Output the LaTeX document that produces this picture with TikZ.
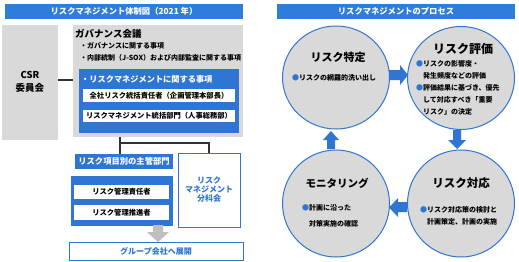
\documentclass[tikz,border=0pt]{standalone}
\usepackage{fontspec}
\setmainfont{Noto Sans CJK JP}
\usetikzlibrary{shapes.geometric}
\definecolor{mblue}{RGB}{46,117,212}
\definecolor{tblue}{RGB}{46,125,218}
\definecolor{mgray}{RGB}{217,217,217}
\definecolor{agray}{RGB}{191,191,191}
\definecolor{lcol}{RGB}{50,50,50}
\newcommand{\fs}[1]{\fontsize{#1}{#1}\selectfont}
\tikzset{
  rbox/.style={rectangle, inner sep=0pt, outer sep=0pt},
  titlebar/.style={rbox, fill=tblue, text=white, font=\fs{8.3}\bfseries, minimum width=238pt, minimum height=15pt},
  graybox/.style={rbox, fill=mgray},
  bluebox/.style={rbox, fill=mblue},
  whitebox/.style={rbox, fill=white, font=\fs{7.3}\bfseries},
  outlinebox/.style={rbox, draw=mblue, line width=0.9pt, fill=white, text=mblue, font=\fs{8}\bfseries},
  conn/.style={draw=lcol, line width=1.3pt},
  proc/.style={ellipse, draw=mblue, line width=1pt, fill=mgray, inner sep=0pt, minimum width=107pt},
  head/.style={font=\fs{11}\bfseries, inner sep=0pt},
  body/.style={font=\fs{7}\bfseries, inner sep=0pt, anchor=west},
  bul/.style={text=mblue}
}
\begin{document}
\begin{tikzpicture}[x=1pt,y=-1pt]
\useasboundingbox (0,0) rectangle (519,262);
% ---------- left: structure ----------
\node[titlebar] (titleL) at (124,11.5) {リスクマネジメント体制図（2021 年）};
\node[graybox, minimum width=56pt, minimum height=115pt] (csr) at (30,82.5) {};
\node[font=\fs{9.5}\bfseries, align=center, inner sep=0pt] (csrt) at (30,82) {CSR\\[3pt]委員会};
\node[graybox, minimum width=170pt, minimum height=112pt] (gov) at (158,81) {};
\node[font=\fs{9.5}\bfseries, inner sep=0pt, anchor=west] (govt) at (75,34) {ガバナンス会議};
\node[body] (g1) at (80,46) {・ガバナンスに関する事項};
\node[body] (g2) at (80,58) {・内部統制（J-SOX）および内部監査に関する事項};
\node[bluebox, minimum width=160pt, minimum height=64pt] (riskbox) at (159,101) {};
\node[font=\fs{8.2}\bfseries, text=white, inner sep=0pt, anchor=west] (rbt) at (81,79) {・リスクマネジメントに関する事項};
\node[whitebox, minimum width=152pt, minimum height=13pt] (w1) at (159,95.5) {全社リスク統括責任者（企画管理本部長）};
\node[whitebox, minimum width=152pt, minimum height=12pt] (w2) at (159,116) {リスクマネジメント統括部門（人事総務部）};
\draw[conn, line width=1.5pt] ([yshift=2.5pt]csr.east) -- ([yshift=2.5pt]csr.east -| gov.west);
\node[bluebox, text=white, font=\fs{8.3}\bfseries, minimum width=98pt, minimum height=15pt] (dept) at (124,161.5) {リスク項目別の主管部門};
\node[bluebox, minimum width=102pt, minimum height=50pt] (deptbox) at (122,201) {};
\node[whitebox, minimum width=95pt, minimum height=14pt] (w3) at (121.5,192) {リスク管理責任者};
\node[whitebox, minimum width=95pt, minimum height=15pt] (w4) at (121.5,212.5) {リスク管理推進者};
\node[outlinebox, minimum width=62pt, minimum height=74pt, align=center] (sub) at (209,190) {リスク\\[1pt]マネジメント\\[1pt]分科会};
\node[outlinebox, minimum width=174pt, minimum height=18pt] (group) at (156,251) {グループ会社へ展開};
\coordinate (br) at (120,143);
\draw[conn] (gov.south -| dept.north) ++(-4,0) coordinate (gs) -- (gs |- dept.north);
\draw[conn] (br) -| (sub.north);
\draw[conn] (dept.south -| gs) -- (dept.south -| gs |- deptbox.north);
\fill[agray] (153,225) -- (163,225) -- (163,232) -- (169,232) -- (158,242) -- (147,232) -- (153,232) -- cycle;
% ---------- right: process ----------
\node[titlebar] (titleR) at (396,11.5) {リスクマネジメントのプロセス};
\node[proc, minimum height=103pt] (c1) at (336,77.5) {};
\node[proc, minimum height=103pt] (c2) at (461,78) {};
\node[proc, minimum height=107pt] (c3) at (461,203.5) {};
\node[proc, minimum height=107pt] (c4) at (336,203.5) {};
\node[head] (h1) at (338,57) {リスク特定};
\node[body] (b1) at (292,78) {\textcolor{mblue}{●}リスクの網羅的洗い出し};
\node[head, font=\fs{12}\bfseries] (h2) at (463,49) {リスク評価};
\node[body] (b2a) at (416,64) {\textcolor{mblue}{●}リスクの影響度・};
\node[body] (b2b) at (423,75.5) {発生頻度などの評価};
\node[body] (b2c) at (416,88) {\textcolor{mblue}{●}評価結果に基づき、優先};
\node[body] (b2d) at (423,100) {して対応すべき「重要};
\node[body] (b2e) at (423,111.5) {リスク」の決定};
\node[head, font=\fs{11.5}\bfseries] (h3) at (461,183) {リスク対応};
\node[body] (b3a) at (420,210) {\textcolor{mblue}{●}リスク対応策の検討と};
\node[body] (b3b) at (427,222) {計画策定、計画の実施};
\node[head, font=\fs{10.5}\bfseries] (h4) at (337,183) {モニタリング};
\node[body] (b4a) at (302,208) {\textcolor{mblue}{●}計画に沿った};
\node[body] (b4b) at (309,224) {対策実施の確認};
% block arrows
\fill[mblue] (389,70) -- (400,70) -- (400,65) -- (408,75) -- (400,85) -- (400,80) -- (389,80) -- cycle;
\fill[mblue] (453,130) -- (461,130) -- (461,140) -- (466,140) -- (457,149) -- (448,140) -- (453,140) -- cycle;
\fill[mblue] (407,202) -- (398,202) -- (398,198) -- (389,207.5) -- (398,217) -- (398,212) -- (407,212) -- cycle;
\fill[mblue] (327,149) -- (335,149) -- (335,140) -- (339,140) -- (331,131) -- (323,140) -- (327,140) -- cycle;
\end{tikzpicture}
\end{document}
